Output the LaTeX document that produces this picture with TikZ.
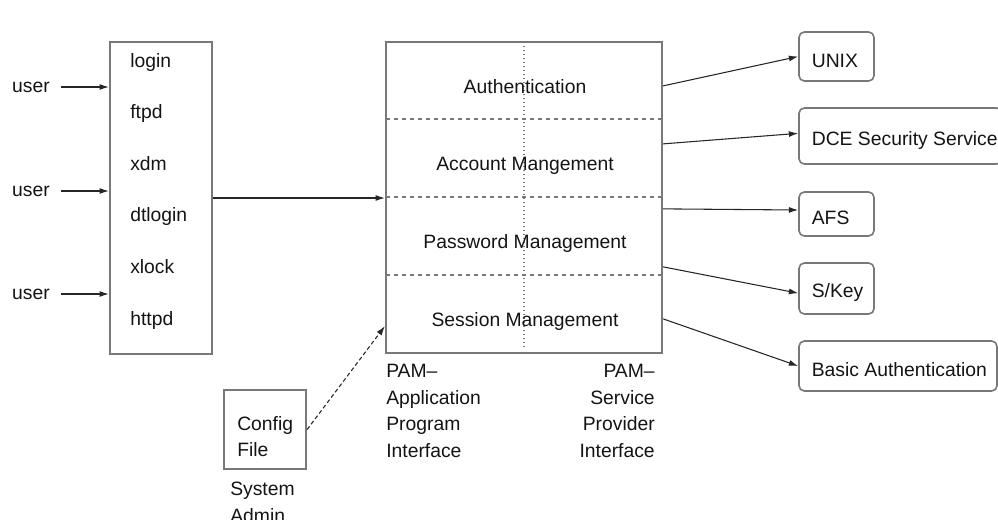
\documentclass[tikz,border=0pt]{standalone}
\usepackage{fontspec}
\setmainfont{Liberation Sans}
\usetikzlibrary{positioning,fit,arrows.meta}
\definecolor{boxgray}{RGB}{120,120,120}
\definecolor{txtgray}{RGB}{20,20,20}

\begin{document}
\begin{tikzpicture}[x=0.75pt,y=-0.75pt,
    box/.style={draw=boxgray,line width=1.7pt,inner sep=0pt},
    rbox/.style={box,line width=1.2pt,rounded corners=4pt},
    lbl/.style={inner sep=0pt,text=txtgray,font=\fontsize{14.5}{19.9}\selectfont},
    arr/.style={draw=black!85,line width=0.8pt,-{Latex[length=7pt,width=4.5pt]}},
    sep/.style={draw=boxgray,line width=1.2pt,dash pattern=on 3pt off 3pt}]
  \useasboundingbox (0,0) rectangle (998,519);
  % applications
  \node[box,fit={(110,42) (212,354)}] (apps) {};
  \foreach \t [count=\i from 0] in {login,ftpd,xdm,dtlogin,xlock,httpd}
    \node[lbl,anchor=base west] (app\i) at (130,67+51.6*\i) {\t};
  \foreach \y [count=\i] in {87,191,294}{
    \node[lbl] (user\i) at (31,\y) {user};
    \draw[arr] ([xshift=8pt]user\i.east) -- (user\i.east -| apps.west);
  }
  % PAM
  \node[box,fit={(386,42) (662,353)}] (pam) {};
  \foreach \y in {119,197,275}
    \draw[sep] (386,\y) -- (662,\y);
  \draw[boxgray,line width=1pt,dotted] (524,42) -- (524,348);
  \foreach \t [count=\i from 0] in {Authentication,Account Mangement,Password Management,Session Management}
    \node[lbl,anchor=base] (row\i) at (525,93+77.7*\i) {\t};
  \draw[arr] (apps.east) -- (apps.east -| pam.west);
  \node[lbl,align=left,anchor=north west] (api) at (386,364) {PAM--\\Application\\Program\\Interface};
  \node[lbl,align=right,anchor=north east] (spi) at (655,364) {PAM--\\Service\\Provider\\Interface};
  % config file
  \node[box,fit={(224,390) (306,469)}] (cfg) {};
  \node[lbl,align=left,anchor=north west] (cfgt) at (237,416) {Config\\File};
  \node[lbl,align=left,anchor=north west] (admin) at (230,482) {System\\Admin};
  \draw[arr,dash pattern=on 3pt off 2pt] (cfg.east) -- ([yshift=21pt]pam.south west);
  % service modules
  \foreach \n/\xr/\ya/\yb/\t in {unix/874/32/81/UNIX,dce/1002/108/164/DCE Security Service,afs/874/192/236/AFS,skey/874/263/314/{S/Key},basic/997/341/391/Basic Authentication}{
    \node[rbox,fit={(799,\ya) (\xr,\yb)}] (\n) {};
    \node[lbl,anchor=west] (\n-t) at ([xshift=10pt,yshift=-3pt]\n.west) {\t};
  }
  \foreach \n/\s/\e in {unix/33.75pt/0pt,dce/77.25pt/2pt,afs/126pt/3pt,skey/169.5pt/-3.5pt,basic/208.5pt/0pt}
    \draw[arr] ([yshift=-\s]pam.north east) -- ([yshift=\e]\n.west);
\end{tikzpicture}
\end{document}
